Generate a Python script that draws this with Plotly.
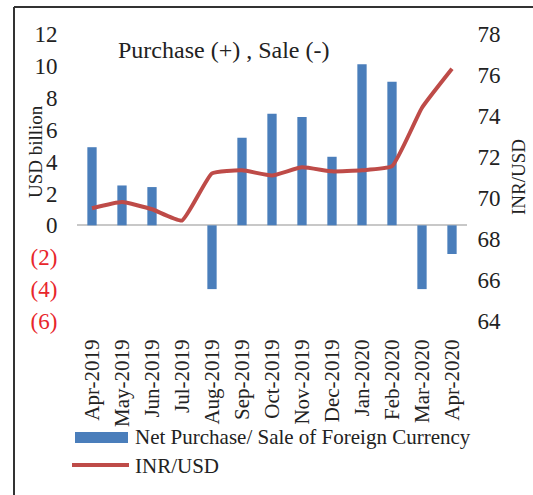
import plotly.graph_objects as go

months = ["Apr-2019", "May-2019", "Jun-2019", "Jul-2019", "Aug-2019", "Sep-2019",
          "Oct-2019", "Nov-2019", "Dec-2019", "Jan-2020", "Feb-2020", "Mar-2020", "Apr-2020"]
net_purchase = [4.9, 2.5, 2.4, 0.0, -4.0, 5.5, 7.0, 6.8, 4.3, 10.1, 9.0, -4.0, -1.8]
inr_usd = [69.5, 69.8, 69.45, 68.9, 71.2, 71.35, 71.1, 71.5, 71.3, 71.35, 71.55, 74.4, 76.3]

left_ticks = [-6, -4, -2, 0, 2, 4, 6, 8, 10, 12]
left_labels = ["<span style='color:#E8262B'>(6)</span>", "<span style='color:#E8262B'>(4)</span>",
               "<span style='color:#E8262B'>(2)</span>", "0", "2", "4", "6", "8", "10", "12"]
right_ticks = [64, 66, 68, 70, 72, 74, 76, 78]

FONT = "Liberation Serif, Times New Roman, serif"
BLUE = "#4A7EBB"
RED = "#BE4B48"
TXT = "#222222"

fig = go.Figure()
fig.add_trace(go.Bar(x=months, y=net_purchase, name="Net Purchase/ Sale of Foreign Currency",
                     marker_color=BLUE, marker_line_width=0, yaxis="y"))
fig.add_trace(go.Scatter(x=months, y=inr_usd, name="INR/USD", mode="lines",
                         line=dict(color=RED, width=4, shape="spline", smoothing=0.4), yaxis="y2"))

fig.update_layout(
    width=533, height=495,
    margin=dict(l=77, r=66, t=34, b=174),
    paper_bgcolor="white", plot_bgcolor="white",
    font=dict(family=FONT, color=TXT, size=21),
    showlegend=False,
    bargap=0.69,
    xaxis=dict(range=[-0.5, 12.5], tickangle=-90, showgrid=False, showline=False, automargin=False,
               ticks="outside", ticklen=9, tickcolor="rgba(0,0,0,0)",
               tickfont=dict(size=21, family=FONT, color=TXT)),
    yaxis=dict(range=[-6, 12], tickvals=left_ticks, ticktext=left_labels, showgrid=False, automargin=False,
               zeroline=True, zerolinecolor="#C8C8C8", zerolinewidth=1.5, showline=False,
               ticks="outside", ticklen=14, tickcolor="rgba(0,0,0,0)",
               tickfont=dict(size=23, family=FONT, color=TXT)),
    yaxis2=dict(range=[64, 78], tickvals=right_ticks, overlaying="y", side="right", automargin=False,
                showgrid=False, zeroline=False, showline=False,
                ticks="outside", ticklen=5, tickcolor="rgba(0,0,0,0)",
                tickfont=dict(size=23, family=FONT, color=TXT)),
)

def px_x(px):
    return (px - 77) / 390

def px_y(py):
    return 1 - (py - 34) / 287

# axis titles as annotations
fig.add_annotation(text="USD billion", xref="paper", yref="paper", x=px_x(35), y=px_y(152),
                   textangle=-90, xanchor="center", yanchor="middle", showarrow=False,
                   font=dict(size=19, family=FONT, color=TXT))
fig.add_annotation(text="INR/USD", xref="paper", yref="paper", x=px_x(518), y=px_y(177),
                   textangle=-90, xanchor="center", yanchor="middle", showarrow=False,
                   font=dict(size=19, family=FONT, color=TXT))

# annotation
fig.add_annotation(text="Purchase (+) , Sale (-)", xref="paper", yref="paper",
                   x=px_x(116), y=px_y(50), xanchor="left", yanchor="middle",
                   showarrow=False, font=dict(size=24, family=FONT, color=TXT))

# frame lines
fig.add_shape(type="line", xref="paper", yref="paper", x0=px_x(14), x1=px_x(533), y0=px_y(7), y1=px_y(7),
              line=dict(color="#333333", width=2))
fig.add_shape(type="line", xref="paper", yref="paper", x0=px_x(14), x1=px_x(14), y0=px_y(7), y1=px_y(495),
              line=dict(color="#333333", width=2))

# manual legend
fig.add_shape(type="rect", xref="paper", yref="paper", x0=px_x(75), x1=px_x(128), y0=px_y(432), y1=px_y(443),
              fillcolor=BLUE, line_width=0)
fig.add_annotation(text="Net Purchase/ Sale of Foreign Currency", xref="paper", yref="paper",
                   x=px_x(133), y=px_y(437), xanchor="left", yanchor="middle", showarrow=False,
                   font=dict(size=21, family=FONT, color=TXT))
fig.add_shape(type="line", xref="paper", yref="paper", x0=px_x(72), x1=px_x(129), y0=px_y(465), y1=px_y(465),
              line=dict(color=RED, width=4))
fig.add_annotation(text="INR/USD", xref="paper", yref="paper",
                   x=px_x(133), y=px_y(466), xanchor="left", yanchor="middle", showarrow=False,
                   font=dict(size=21, family=FONT, color=TXT))

fig.write_html("out.html", config={"displayModeBar": False},
               post_script="document.body.style.margin='0';document.body.style.overflow='hidden';")
